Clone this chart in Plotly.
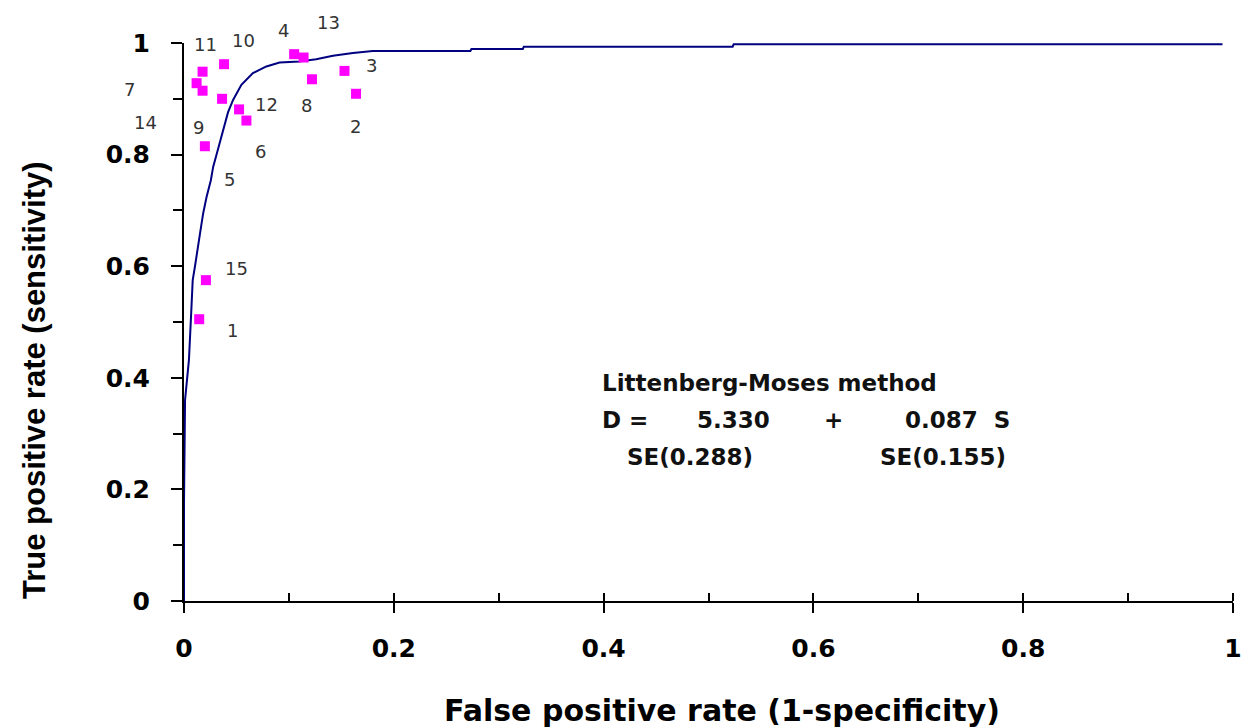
import plotly.graph_objects as go

# Study points (false positive rate, true positive rate) and their study numbers
study_ids = ["11", "7", "14", "10", "5", "12", "6", "9", "4", "13", "8", "3", "2", "15", "1"]
study_fpr = [0.0177, 0.0120, 0.0177, 0.0382, 0.0363, 0.0525, 0.0595, 0.0199, 0.1050, 0.1140, 0.1220, 0.1530, 0.1640, 0.0209, 0.0145]
study_tpr = [0.9486, 0.9280, 0.9145, 0.9620, 0.9000, 0.8810, 0.8610, 0.8150, 0.9800, 0.9740, 0.9350, 0.9500, 0.9090, 0.5750, 0.5050]

# SROC curve
curve_fpr = [0.0, 0.0, 0.001, 0.0047, 0.0064, 0.0073, 0.0083, 0.0104, 0.0136, 0.0158, 0.0183,
             0.0215, 0.0256, 0.0278, 0.0335, 0.042, 0.0468, 0.0547, 0.0657, 0.0785, 0.0911,
             0.110, 0.126, 0.142, 0.161, 0.180, 0.273, 0.274, 0.323, 0.324, 0.523, 0.524, 0.990]
curve_tpr = [0.0, 0.176, 0.360, 0.432, 0.498, 0.545, 0.575, 0.599, 0.634, 0.665, 0.695,
             0.724, 0.754, 0.778, 0.817, 0.876, 0.898, 0.925, 0.946, 0.958, 0.965,
             0.967, 0.971, 0.977, 0.982, 0.9857, 0.9857, 0.9892, 0.9892, 0.9934, 0.9934, 0.9977, 0.9977]

x_ticks = [0, 0.2, 0.4, 0.6, 0.8, 1]
x_tick_text = ["0", "0.2", "0.4", "0.6", "0.8", "1"]
y_ticks = [0, 0.2, 0.4, 0.6, 0.8, 1]
y_tick_text = ["0", "0.2", "0.4", "0.6", "0.8", "1"]

method_title = "Littenberg-Moses method"
eq_intercept = "5.330"
eq_slope = "0.087  S"
se_intercept = "SE(0.288)"
se_slope = "SE(0.155)"

# label pixel offsets (xshift, yshift) per study, in the same order as study_ids
label_offsets = [(3, 27), (-67, -6), (-57, -32), (19, 24), (7, -81), (27, 5), (14, -31),
                 (-6, 19), (-11, 24), (25, 35), (-5, -26), (27, 5), (-1, -33), (31, 12), (33, -11)]

fig = go.Figure()
fig.add_trace(go.Scatter(x=curve_fpr, y=curve_tpr, mode="lines",
                         line=dict(color="#000080", width=2), cliponaxis=False,
                         hoverinfo="skip", showlegend=False))
fig.add_trace(go.Scatter(x=study_fpr, y=study_tpr, mode="markers",
                         marker=dict(symbol="square", size=10, color="#FF00FF"),
                         cliponaxis=False, showlegend=False))

ann = []
for sid, fx, ty, (dx, dy) in zip(study_ids, study_fpr, study_tpr, label_offsets):
    ann.append(dict(x=fx, y=ty, xref="x", yref="y", text=sid, showarrow=False,
                    xshift=dx, yshift=dy, font=dict(family="DejaVu Sans", size=18, color="#333333")))

ML, MR, MT, MB = 184, 12, 43, 126
PW, PH = 1245 - ML - MR, 727 - MT - MB

txt_font = dict(family="DejaVu Sans", size=23, color="#111111")
def px_x(p):
    return (p - ML) / PW
def px_y(p):
    return (MT + PH - p) / PH

ann += [
    dict(x=px_x(600), y=px_y(383), xref="paper", yref="paper", text="<b>%s</b>" % method_title,
         showarrow=False, xanchor="left", yanchor="middle", font=txt_font),
    dict(x=px_x(600), y=px_y(420), xref="paper", yref="paper", text="<b>D =</b>",
         showarrow=False, xanchor="left", yanchor="middle", font=txt_font),
    dict(x=px_x(772), y=px_y(420), xref="paper", yref="paper", text="<b>%s</b>" % eq_intercept,
         showarrow=False, xanchor="right", yanchor="middle", font=txt_font),
    dict(x=px_x(833), y=px_y(420), xref="paper", yref="paper", text="<b>+</b>",
         showarrow=False, xanchor="center", yanchor="middle", font=txt_font),
    dict(x=px_x(1012), y=px_y(420), xref="paper", yref="paper", text="<b>%s</b>" % eq_slope,
         showarrow=False, xanchor="right", yanchor="middle", font=txt_font),
    dict(x=px_x(625), y=px_y(457), xref="paper", yref="paper", text="<b>%s</b>" % se_intercept,
         showarrow=False, xanchor="left", yanchor="middle", font=txt_font),
    dict(x=px_x(1008), y=px_y(457), xref="paper", yref="paper", text="<b>%s</b>" % se_slope,
         showarrow=False, xanchor="right", yanchor="middle", font=txt_font),
    dict(x=px_x(722), y=px_y(710), xref="paper", yref="paper",
         text="<b>False positive rate (1-specificity)</b>", showarrow=False,
         xanchor="center", yanchor="middle",
         font=dict(family="DejaVu Sans", size=30, color="#000000")),
    dict(x=px_x(34), y=px_y(380), xref="paper", yref="paper",
         text="<b>True positive rate (sensitivity)</b>", showarrow=False, textangle=-90,
         xanchor="center", yanchor="middle",
         font=dict(family="Liberation Sans", size=31, color="#000000")),
]

tick_font = dict(family="DejaVu Sans", size=25, color="#000000", weight="bold")
fig.update_layout(
    width=1245, height=727,
    margin=dict(l=ML, r=MR, t=MT, b=MB, autoexpand=False),
    paper_bgcolor="white", plot_bgcolor="white",
    annotations=ann,
    xaxis=dict(range=[0, 1], tickvals=x_ticks, ticktext=x_tick_text, showgrid=False, zeroline=False,
               showline=True, linecolor="#000000", linewidth=2, ticks="outside", ticklen=10,
               tickwidth=2, tickcolor="#000000", tickfont=tick_font, ticklabelstandoff=14,
               ticklabeloverflow="allow", automargin=False,
               minor=dict(dtick=0.1, ticks="inside", ticklen=8, tickwidth=2, tickcolor="#000000"),
               layer="below traces", fixedrange=True),
    yaxis=dict(range=[0, 1], tickvals=y_ticks, ticktext=y_tick_text, showgrid=False, zeroline=False,
               showline=True, linecolor="#000000", linewidth=2, ticks="outside", ticklen=11,
               tickwidth=2, tickcolor="#000000", tickfont=tick_font, ticklabelstandoff=16,
               ticklabeloverflow="allow", automargin=False,
               minor=dict(dtick=0.1, ticks="outside", ticklen=9, tickwidth=2, tickcolor="#000000"),
               layer="below traces", fixedrange=True),
)

fig.write_html("out.html")
